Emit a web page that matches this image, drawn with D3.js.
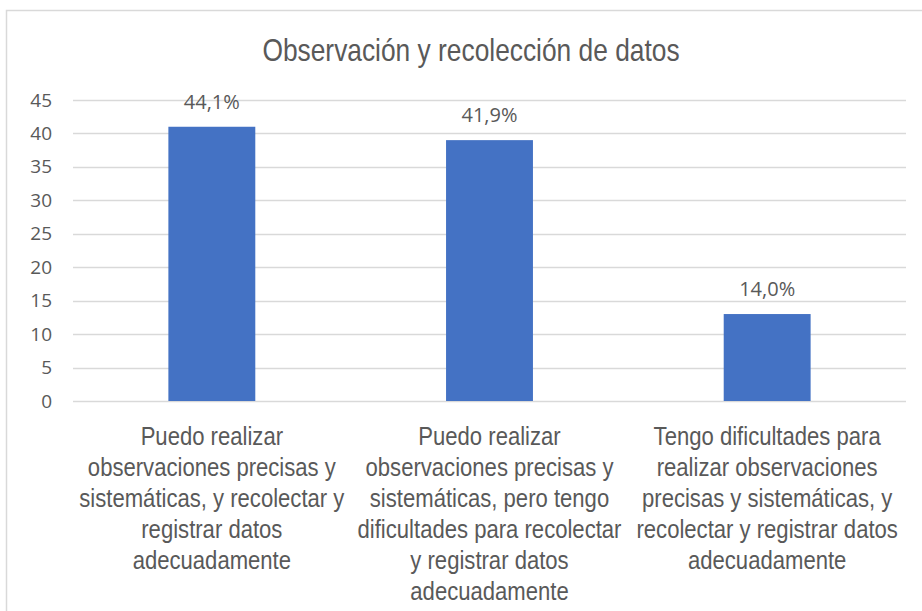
<!DOCTYPE html>
<html><head><meta charset="utf-8">
<script src="https://cdn.jsdelivr.net/npm/d3@7"></script>
<style>body{margin:0;background:#fff}svg{display:block}</style>
</head><body><svg id="c" width="922" height="611"></svg>
<script>
const title = "Observación y recolección de datos";
const categories = [
  "Puedo realizar\nobservaciones precisas y\nsistemáticas, y recolectar y\nregistrar datos\nadecuadamente",
  "Puedo realizar\nobservaciones precisas y\nsistemáticas, pero tengo\ndificultades para recolectar\ny registrar datos\nadecuadamente",
  "Tengo dificultades para\nrealizar observaciones\nprecisas y sistemáticas, y\nrecolectar y registrar datos\nadecuadamente"
];
const values = [41, 39, 13];
const labels = ["44,1%", "41,9%", "14,0%"];
const yTicks = [0, 5, 10, 15, 20, 25, 30, 35, 40, 45];

const svg = d3.select("#c");
const narrow = "'Liberation Sans',Arial,sans-serif";
const ui = "'Open Sans','Segoe UI',sans-serif";
const textCol = "#595959";
const squeeze = 0.85;

svg.append("rect").attr("x", 6.5).attr("y", 10.5).attr("width", 940).attr("height", 640)
  .attr("fill", "#fff").attr("stroke", "#d9d9d9").attr("stroke-width", 1.5);

const x = d3.scaleBand().domain(d3.range(categories.length)).range([73, 906]).paddingInner(0.687).paddingOuter(0.3435);
const y = d3.scaleLinear().domain([0, 45]).range([401, 100]);

// gridlines
svg.append("g").selectAll("line").data(yTicks).join("line")
  .attr("x1", 73).attr("x2", 906)
  .attr("y1", d => Math.round(y(d)) + 0.5).attr("y2", d => Math.round(y(d)) + 0.5)
  .attr("stroke", "#d9d9d9").attr("stroke-width", 1.3);

// y axis
const yAxis = d3.axisLeft(y).tickValues(yTicks).tickSize(0).tickPadding(0);
const ga = svg.append("g").attr("transform", "translate(52,0)").call(yAxis);
ga.select(".domain").remove();
ga.selectAll("text").attr("font-family", ui).attr("font-size", 19).attr("fill", textCol);

// bars
svg.append("g").selectAll("rect").data(values).join("rect")
  .attr("x", (d, i) => x(i)).attr("width", x.bandwidth())
  .attr("y", d => y(d)).attr("height", d => y(0) - y(d))
  .attr("fill", "#4472C4");

// data labels
svg.append("g").selectAll("text").data(values).join("text")
  .attr("x", (d, i) => x(i) + x.bandwidth() / 2)
  .attr("y", d => y(d) - 18)
  .attr("text-anchor", "middle")
  .attr("font-family", ui).attr("font-size", 20).attr("fill", textCol)
  .text((d, i) => labels[i]);

// category labels
const cg = svg.append("g");
categories.forEach((c, i) => {
  const t = cg.append("text").attr("text-anchor", "middle")
    .attr("transform", `translate(${x(i) + x.bandwidth() / 2},0) scale(${squeeze},1)`)
    .attr("font-family", narrow).attr("font-size", 26).attr("fill", textCol);
  c.split("\n").forEach((ln, j) => {
    t.append("tspan").attr("x", 0).attr("y", 445 + j * 31).text(ln);
  });
});

// title
svg.append("text").attr("text-anchor", "middle")
  .attr("transform", `translate(471,61) scale(${squeeze},1)`)
  .attr("font-family", narrow).attr("font-size", 31).attr("fill", textCol).text(title);
</script></body></html>
